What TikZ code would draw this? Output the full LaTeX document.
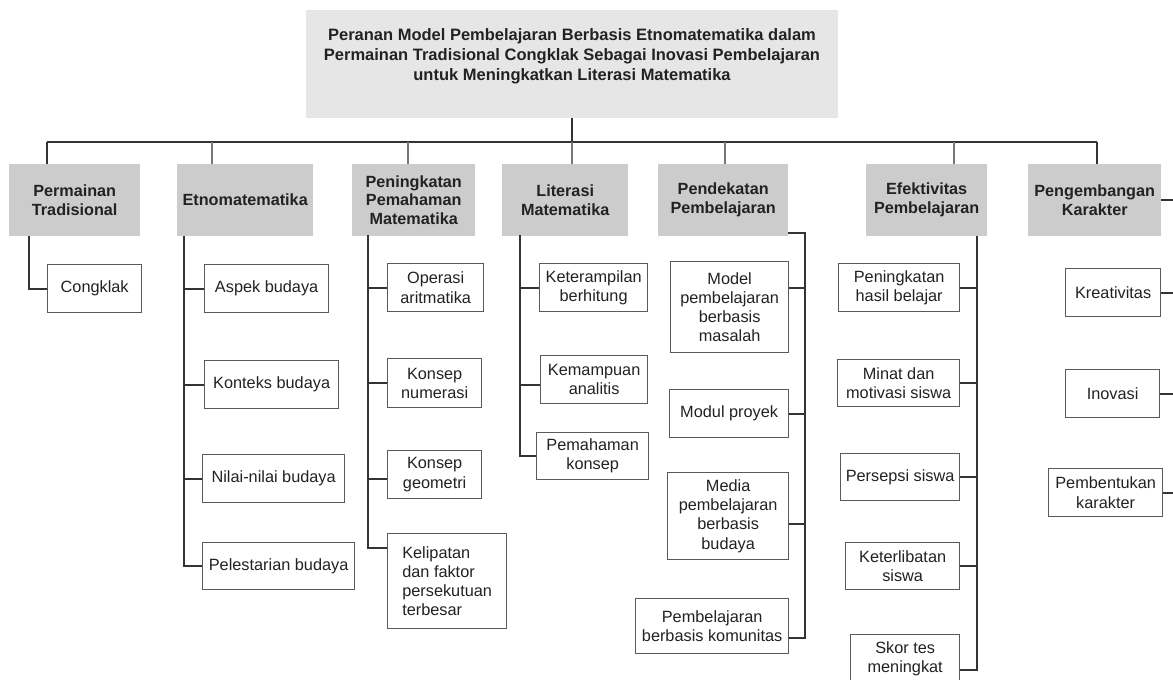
\documentclass[tikz,border=0pt]{standalone}
\usepackage{fontspec}
\setmainfont{Liberation Sans}
\definecolor{txtc}{HTML}{222222}
\definecolor{titlec}{HTML}{E6E6E6}
\definecolor{hdrc}{HTML}{CCCCCC}
\definecolor{leafc}{HTML}{5A5A5A}
\definecolor{connc}{HTML}{333333}
\definecolor{dropc}{HTML}{777777}
\begin{document}
\begin{tikzpicture}[x=1pt,y=-1pt,
  titlebox/.style={fill=titlec, draw=none, inner sep=0pt, anchor=north west},
  titletext/.style={text=txtc, font=\bfseries\fontsize{16.5}{20}\selectfont, align=center, inner sep=0pt},
  hdr/.style={fill=hdrc, draw=none, inner sep=0pt, anchor=north west, minimum height=72pt, align=center, text=txtc, font=\bfseries\fontsize{16.2}{18.8}\selectfont},
  leaf/.style={draw=leafc, line width=1.3pt, fill=white, inner sep=0pt, anchor=north west, align=center, text=txtc, font=\fontsize{16.3}{19.2}\selectfont},
  conn/.style={draw=connc, line width=1.8pt},
  drop/.style={draw=dropc, line width=1.3pt}]
\useasboundingbox (0,0) rectangle (1173,680);
\fill[white] (0,0) rectangle (1173,680);

% title
\node[titlebox, minimum width=532pt, minimum height=108pt] (title) at (306,10) {};
\node[titletext] (titletxt) at (572,56.5) {Peranan Model Pembelajaran Berbasis Etnomatematika dalam\\Permainan Tradisional Congklak Sebagai Inovasi Pembelajaran\\untuk Meningkatkan Literasi Matematika};

% headers
\node[hdr, minimum width=131pt] (permainan) at (9,164) {Permainan\\Tradisional};
\node[hdr, minimum width=136pt] (etno) at (177,164) {Etnomatematika};
\node[hdr, minimum width=123pt] (peningkatan) at (352,164) {Peningkatan\\Pemahaman\\Matematika};
\node[hdr, minimum width=126pt] (literasi) at (502,164) {Literasi\\Matematika};
\node[hdr, minimum width=130pt] (pendekatan) at (658,164) {Pendekatan\\Pembelajaran};
\node[hdr, minimum width=121pt] (efektivitas) at (866,164) {Efektivitas\\Pembelajaran};
\node[hdr, minimum width=133pt] (pengembangan) at (1028,164) {Pengembangan\\Karakter};

% leaves
\node[leaf, minimum width=94pt, minimum height=48pt] (congklak) at (47,264) {Congklak};
\node[leaf, minimum width=124pt, minimum height=48pt] (aspek) at (204,264) {Aspek budaya};
\node[leaf, minimum width=134pt, minimum height=48pt] (konteks) at (204,360) {Konteks budaya};
\node[leaf, minimum width=142pt, minimum height=48pt] (nilai) at (202,454) {Nilai-nilai budaya};
\node[leaf, minimum width=152pt, minimum height=47pt] (pelestarian) at (202,542) {Pelestarian budaya};
\node[leaf, minimum width=96pt, minimum height=48pt] (operasi) at (387,263) {Operasi\\aritmatika};
\node[leaf, minimum width=94pt, minimum height=49pt] (numerasi) at (387,358) {Konsep\\numerasi};
\node[leaf, minimum width=94pt, minimum height=48pt] (geometri) at (387,450) {Konsep\\geometri};
\node[leaf, minimum width=119pt, minimum height=95pt, align=left] (kelipatan) at (387,533) {Kelipatan\\dan faktor\\persekutuan\\terbesar};
\node[leaf, minimum width=108pt, minimum height=48pt] (keterampilan) at (539,263) {Keterampilan\\berhitung};
\node[leaf, minimum width=107pt, minimum height=48pt] (kemampuan) at (540,355) {Kemampuan\\analitis};
\node[leaf, minimum width=112pt, minimum height=47pt] (pemahaman) at (536,432) {Pemahaman\\konsep};
\node[leaf, minimum width=118pt, minimum height=91pt] (model) at (670,261) {Model\\pembelajaran\\berbasis\\masalah};
\node[leaf, minimum width=119pt, minimum height=48pt] (modul) at (669,389) {Modul proyek};
\node[leaf, minimum width=121pt, minimum height=87pt] (media) at (667,472) {Media\\pembelajaran\\berbasis\\budaya};
\node[leaf, minimum width=153pt, minimum height=55pt] (komunitas) at (635,598) {Pembelajaran\\berbasis komunitas};
\node[leaf, minimum width=121pt, minimum height=48pt] (hasil) at (838,263) {Peningkatan\\hasil belajar};
\node[leaf, minimum width=122pt, minimum height=47pt] (minat) at (837,359) {Minat dan\\motivasi siswa};
\node[leaf, minimum width=119pt, minimum height=47pt] (persepsi) at (840,453) {Persepsi siswa};
\node[leaf, minimum width=114pt, minimum height=47pt] (keterlibatan) at (845,542) {Keterlibatan\\siswa};
\node[leaf, minimum width=109pt, minimum height=48pt] (skor) at (850,634) {Skor tes\\meningkat};
\node[leaf, minimum width=95pt, minimum height=48pt] (kreativitas) at (1065,268) {Kreativitas};
\node[leaf, minimum width=94pt, minimum height=48pt] (inovasi) at (1065,369) {Inovasi};
\node[leaf, minimum width=114pt, minimum height=48pt] (pembentukan) at (1048,468) {Pembentukan\\karakter};

% bus
\coordinate (bl) at (47,142);
\coordinate (br) at (1097,142);
\draw[conn] (title.south) -- (title.south |- bl);
\draw[conn] (bl) -- (br);
\draw[conn] (bl) -- (bl |- permainan.north);
\draw[conn] (br) -- (br |- pengembangan.north);
\coordinate (b2) at (212,142);
\coordinate (b3) at (408,142);
\coordinate (b4) at (572,142);
\coordinate (b5) at (725,142);
\coordinate (b6) at (954,142);
\draw[drop] (b2) -- (b2 |- etno.north);
\draw[drop] (b3) -- (b3 |- peningkatan.north);
\draw[drop] (b4) -- (b4 |- literasi.north);
\draw[drop] (b5) -- (b5 |- pendekatan.north);
\draw[drop] (b6) -- (b6 |- efektivitas.north);

% Permainan
\coordinate (p0) at (29,236);
\draw[conn] (p0) |- (congklak.west);

% Etnomatematika
\coordinate (e0) at (184,236);
\draw[conn] (e0) |- (pelestarian.west);
\foreach \n in {aspek,konteks,nilai} \draw[conn] (e0 |- \n.west) -- (\n.west);

% Peningkatan
\coordinate (i0) at (368,235);
\coordinate (kelc) at ([yshift=33.5pt]kelipatan.west);
\coordinate (geoc) at ([yshift=-4pt]geometri.west);
\draw[conn] (i0) |- (kelc);
\draw[conn] (i0 |- operasi.west) -- (operasi.west);
\draw[conn] (i0 |- numerasi.west) -- (numerasi.west);
\draw[conn] (i0 |- geoc) -- (geoc);

% Literasi
\coordinate (l0) at (520,235);
\coordinate (kemc) at ([yshift=-5pt]kemampuan.west);
\draw[conn] (l0) |- (pemahaman.west);
\draw[conn] (l0 |- keterampilan.west) -- (keterampilan.west);
\draw[conn] (l0 |- kemc) -- (kemc);

% Pendekatan
\coordinate (d0) at (805,233);
\coordinate (modc) at ([yshift=19.5pt]model.east);
\coordinate (medc) at ([yshift=-7.5pt]media.east);
\coordinate (komc) at ([yshift=-11.5pt]komunitas.east);
\draw[conn] (pendekatan.east |- d0) -- (d0) |- (komc);
\draw[conn] (modc) -- (modc -| d0);
\draw[conn] (modul.east) -- (modul.east -| d0);
\draw[conn] (medc) -- (medc -| d0);

% Efektivitas
\coordinate (f0) at (977,236);
\coordinate (skorc) at ([yshift=-11pt]skor.east);
\draw[conn] (f0) |- (skorc);
\foreach \n in {hasil,minat,persepsi,keterlibatan} \draw[conn] (\n.east) -- (\n.east -| f0);

% Pengembangan
\coordinate (r0) at (1173,200);
\draw[conn] (pengembangan.east) -- (pengembangan.east -| r0);
\foreach \n in {kreativitas,inovasi,pembentukan} \draw[conn] (\n.east) -- (\n.east -| r0);
\end{tikzpicture}
\end{document}
